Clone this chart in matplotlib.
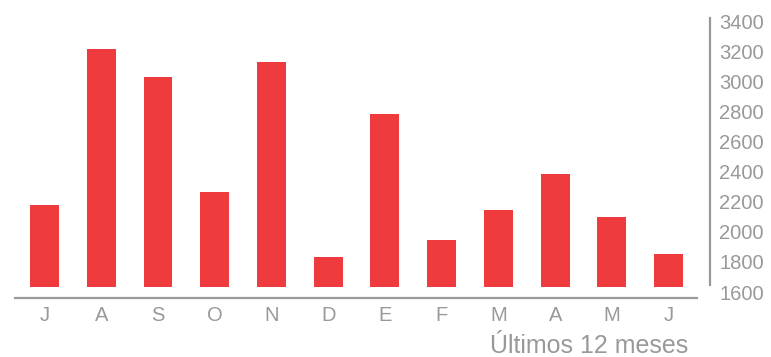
import numpy as np
import matplotlib
matplotlib.use('Agg')
import matplotlib.pyplot as plt
import matplotlib.transforms as mtransforms

months = ['J', 'A', 'S', 'O', 'N', 'D', 'E', 'F', 'M', 'A', 'M', 'J']
values = [2145, 3181, 2995, 2231, 3094, 1799, 2749, 1912, 2112, 2351, 2065, 1819]
yticks = [1600, 1800, 2000, 2200, 2400, 2600, 2800, 3000, 3200, 3400]
caption = 'Últimos 12 meses'

red = '#ef3a3e'
grey = '#999999'

plt.rcParams['font.family'] = ['Liberation Sans', 'DejaVu Sans']

fig = plt.figure(figsize=(7.71, 3.57), dpi=100)
ax = fig.add_axes([15/771, 59/357, (697-15)/771, (298-10)/357])

x = np.arange(len(months))
base = 1600
ax.bar(x, np.array(values) - base, bottom=base, width=0.51, color=red)

ax.set_xlim(-0.52, 11.50)
ax.set_ylim(1527, 3440)

for s in ['top', 'left']:
    ax.spines[s].set_visible(False)
ax.spines['bottom'].set_color(grey)
ax.spines['bottom'].set_linewidth(1.6)
ax.spines['right'].set_color(grey)
ax.spines['right'].set_linewidth(1.6)
ax.spines['right'].set_position(('outward', 13 * 72 / 100))
ax.spines['right'].set_bounds(1613, 3386)

ax.set_xticks(x)
ax.set_xticklabels(months)
ax.tick_params(axis='x', length=0, pad=6, labelsize=14.5, labelcolor=grey)

ax.yaxis.tick_right()
ax.set_yticks(yticks)
ax.set_yticklabels([str(t) for t in yticks])
ax.tick_params(axis='y', length=0, pad=6.5, labelsize=14.5, labelcolor=grey)
shift = mtransforms.ScaledTranslation(0, -5/100, fig.dpi_scale_trans)
for lbl in ax.get_yticklabels():
    lbl.set_transform(lbl.get_transform() + shift)

fig.text(688/771, 1 - 346/357, caption, ha='right', va='center',
         fontsize=18, color=grey)

fig.savefig('out.png', dpi=100)
